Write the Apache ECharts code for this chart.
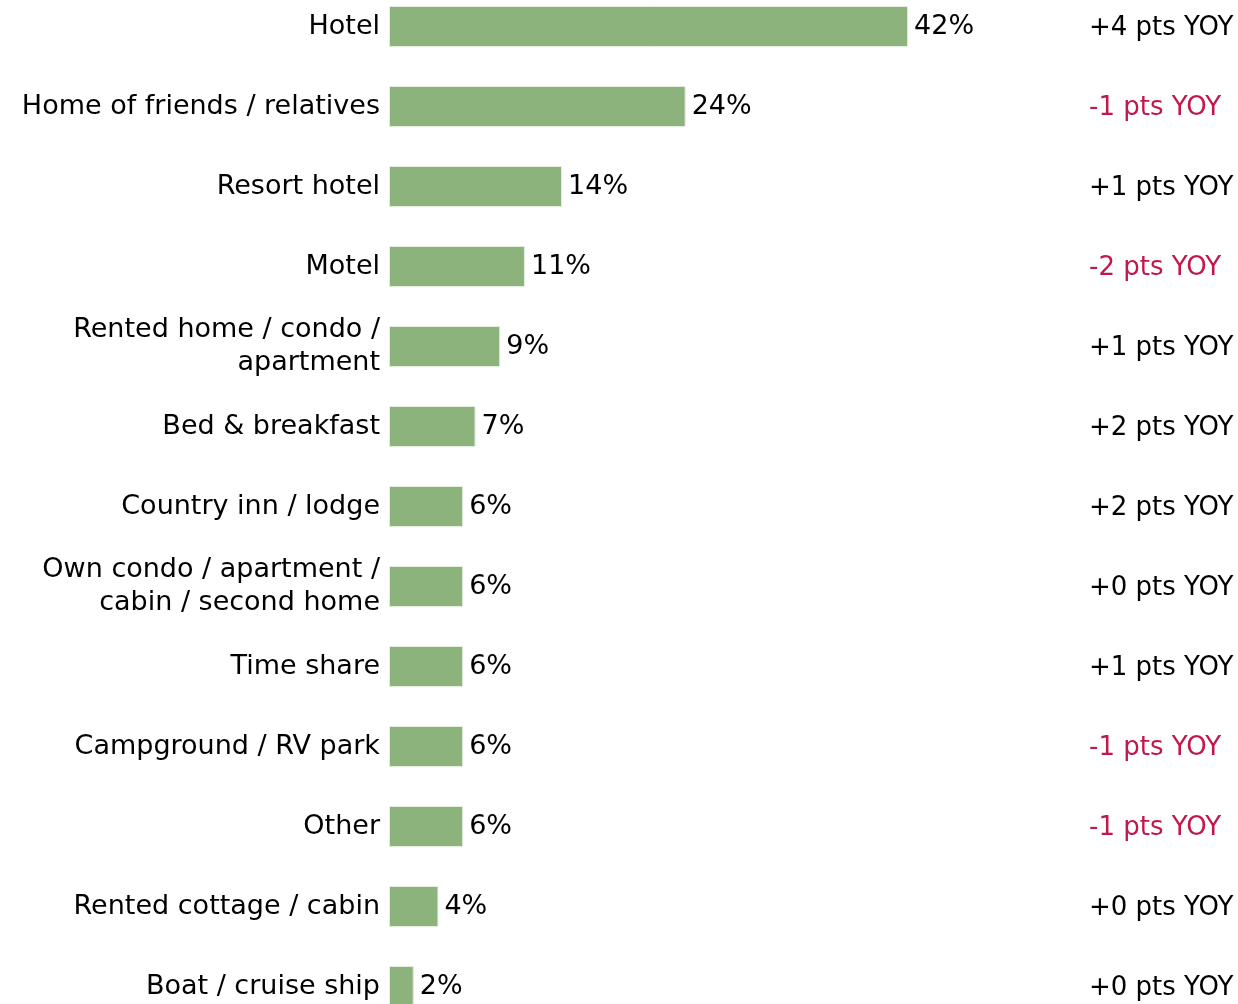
<!DOCTYPE html>
<html>
<head>
<meta charset="utf-8">
<title>Accommodation type</title>
<script src="https://cdn.jsdelivr.net/npm/echarts@6/dist/echarts.min.js"></script>
<style>
  html, body { margin: 0; padding: 0; background: #fff; }
  #chart { width: 1238px; height: 1004px; }
</style>
</head>
<body>
<div id="chart"></div>
<script>
// Accommodation types, top to bottom
const categories = [
  'Hotel',
  'Home of friends / relatives',
  'Resort hotel',
  'Motel',
  'Rented home / condo /\napartment',
  'Bed & breakfast',
  'Country inn / lodge',
  'Own condo / apartment /\ncabin / second home',
  'Time share',
  'Campground / RV park',
  'Other',
  'Rented cottage / cabin',
  'Boat / cruise ship'
];

// Share of stays, percent
const shares = [42, 24, 14, 11, 9, 7, 6, 6, 6, 6, 6, 4, 2];

// Change versus prior year, points
const yoyChange = [4, -1, 1, -2, 1, 2, 2, 0, 1, -1, -1, 0, 0];

const FONT = '"DejaVu Sans", Verdana, sans-serif';
const TEXT = '#000000';
const NEG = '#c0184a';

function yoyText(v) {
  return (v < 0 ? '-' + Math.abs(v) : '+' + v) + ' pts YOY';
}

const chart = echarts.init(document.getElementById('chart'));
chart.setOption({
  animation: false,
  backgroundColor: '#ffffff',
  grid: {
    left: 389,
    right: 231,
    top: -13.5,
    height: 1040,
    containLabel: false,
    outerBoundsMode: 'none'
  },
  xAxis: {
    type: 'value',
    min: 0,
    max: 50,
    show: false
  },
  yAxis: [
    {
      type: 'category',
      data: categories,
      inverse: true,
      position: 'left',
      axisLine: { show: false },
      axisTick: { show: false },
      splitLine: { show: false },
      axisLabel: {
        margin: 9,
        fontFamily: FONT,
        fontSize: 27,
        lineHeight: 33,
        color: TEXT,
        align: 'right',
        padding: [4, 0, 0, 0]
      }
    },
    {
      type: 'category',
      data: categories,
      inverse: true,
      position: 'right',
      axisLine: { show: false },
      axisTick: { show: false },
      splitLine: { show: false },
      axisLabel: {
        margin: 82,
        align: 'left',
        fontFamily: FONT,
        fontSize: 27,
        padding: [4, 0, 0, 0],
        formatter: function (value, idx) {
          const v = yoyChange[idx];
          return v < 0 ? '{neg|' + yoyText(v) + '}' : '{pos|' + yoyText(v) + '}';
        },
        rich: {
          pos: { color: TEXT, fontFamily: FONT, fontSize: 26 },
          neg: { color: NEG, fontFamily: FONT, fontSize: 26 }
        }
      }
    }
  ],
  series: [
    {
      type: 'bar',
      data: shares,
      barWidth: 41,
      itemStyle: { color: '#8bb37b', borderColor: '#e4eedf', borderWidth: 1 },
      label: {
        show: true,
        position: 'right',
        distance: 6,
        fontFamily: FONT,
        fontSize: 27,
        color: TEXT,
        padding: [2, 0, 0, 0],
        formatter: function (p) { return p.value + '%'; }
      }
    }
  ]
});
</script>
</body>
</html>
